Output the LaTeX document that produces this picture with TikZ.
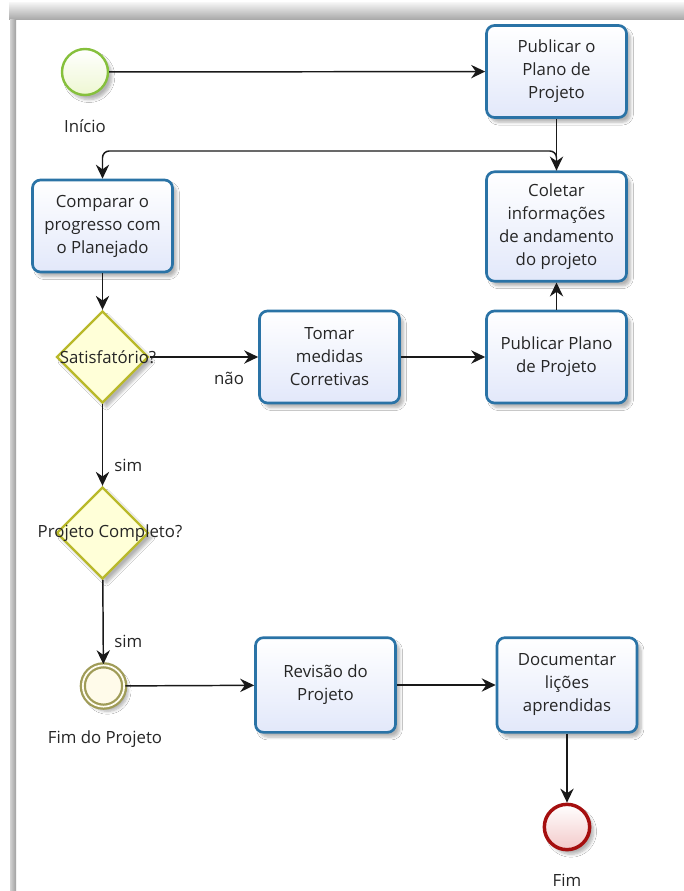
\documentclass[tikz,border=0pt]{standalone}
\usepackage{fontspec}
\setmainfont{Open Sans}
\usetikzlibrary{arrows.meta,shapes.geometric,shadows.blur}

\definecolor{taskline}{HTML}{2A73A6}
\definecolor{taskfill}{HTML}{E2E8FA}
\definecolor{startline}{HTML}{86C03C}
\definecolor{startfill}{HTML}{EEF7D2}
\definecolor{gateline}{HTML}{B9B92A}
\definecolor{gatefill}{HTML}{FFFFD8}
\definecolor{endline}{HTML}{A50F0F}
\definecolor{endfill}{HTML}{F3C9C9}
\definecolor{midline}{HTML}{A09C58}
\definecolor{midfill}{HTML}{FFFBEA}

\tikzset{
  txt/.style={font=\fontsize{12.6}{17.25}\selectfont, text=black!85},
  softshadow/.style={blur shadow={shadow xshift=3pt, shadow yshift=-3.5pt,
      shadow blur steps=6, shadow opacity=30}},
  task/.style={txt, draw=taskline, line width=2pt, rounded corners=6pt,
      top color=white, bottom color=taskfill, minimum width=105pt,
      minimum height=69pt, align=center, inner sep=2pt, softshadow},
  gate/.style={diamond, draw=gateline, line width=1.8pt, fill=gatefill,
      minimum width=69pt, minimum height=69pt, inner sep=0pt, softshadow},
  startev/.style={circle, draw=startline, line width=1.8pt,
      top color=white, bottom color=startfill, minimum size=34.5pt,
      inner sep=0pt, softshadow},
  midev/.style={circle, draw=midline, line width=1.7pt, double=midfill!60,
      double distance=1.3pt, fill=midfill, minimum size=31pt, inner sep=0pt,
      softshadow},
  endev/.style={circle, draw=endline, line width=2.6pt,
      top color=white, bottom color=endfill, minimum size=34pt,
      inner sep=0pt, softshadow},
  flow/.style={line width=1.1pt, draw=black!90,
      -{Stealth[length=10.5pt, width=10pt, inset=3.5pt]}},
  lbl/.style={txt, inner sep=0pt},
}

\begin{document}
\begin{tikzpicture}[x=0.75pt, y=-0.75pt]
  % page and window frame
  \useasboundingbox (0,0) rectangle (684,891);
  \fill[white] (0,0) rectangle (684,891);
  \shade[top color=gray!10, bottom color=gray!70] (9,3) rectangle (684,20);
  \shade[left color=gray!35, right color=gray!75] (10,20) rectangle (16,891);

  % tasks
  \node[task] (pub1) at (556.5,71.5) {Publicar o\\Plano de\\Projeto};
  \node[task, minimum height=82pt] (col) at (556.5,226.5)
      {Coletar\\informações\\de andamento\\do projeto};
  \node[task] (comp) at (102.5,226) {Comparar o\\progresso com\\o Planejado};
  \node[task] (tom) at (329.5,357) {Tomar\\medidas\\Corretivas};
  \node[task] (pub2) at (556.5,357) {Publicar Plano\\de Projeto};
  \node[task, minimum height=71pt] (rev) at (325.5,685) {Revisão do\\Projeto};
  \node[task, minimum height=71pt] (doc) at (567,685)
      {Documentar\\lições\\aprendidas};

  % gateways
  \node[gate] (sat) at (102.5,357) {};
  \node[lbl] (satl) at (108,357) {Satisfatório?};
  \node[gate] (pc) at (102.5,533) {};
  \node[lbl] (pcl) at (110,533) {Projeto Completo?};

  % events
  \node[startev] (ini) at (85,72) {};
  \node[lbl] (inil) at (85,126) {Início};
  \node[midev] (fimp) at (103.5,686) {};
  \node[lbl] (fimpl) at (105,739) {Fim do Projeto};
  \node[endev] (fim) at (567,827) {};
  \node[lbl] (fiml) at (567,880) {Fim};

  % sequence flows
  \coordinate (loop) at (556.5,151);
  \draw[flow] (ini) -- (pub1);
  \draw[flow] (pub1) -- (col);
  \draw[flow, rounded corners=5pt] (col.north) -- (loop) -| (comp.north);
  \draw[flow] (comp) -- (sat);
  \draw[flow] (sat) -- (tom);
  \node[lbl] (nao) at (229,378) {não};
  \draw[flow] (tom) -- (pub2);
  \draw[flow] (pub2) -- (col);
  \draw[flow] (sat) -- (pc);
  \node[lbl, anchor=west] (sim1) at (114,465) {sim};
  \draw[flow] (pc) -- (fimp);
  \node[lbl, anchor=west] (sim2) at (114,641) {sim};
  \draw[flow] (fimp) -- (rev);
  \draw[flow] (rev) -- (doc);
  \draw[flow] (doc) -- (fim);
\end{tikzpicture}
\end{document}
